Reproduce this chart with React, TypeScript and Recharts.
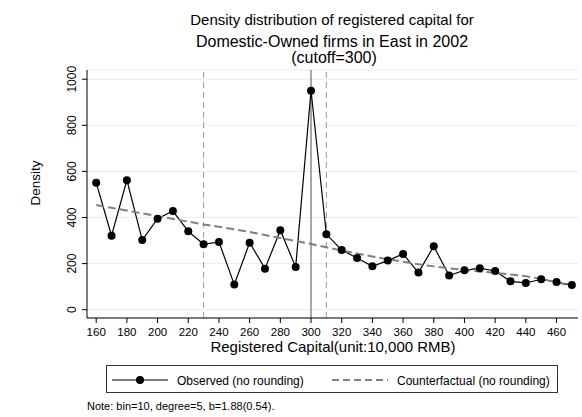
import {
  ComposedChart,
  Line,
  XAxis,
  YAxis,
  CartesianGrid,
  ReferenceLine,
  Legend,
} from "recharts";

// bins of registered capital (10,000 RMB)
const bins = [
  160, 170, 180, 190, 200, 210, 220, 230, 240, 250, 260, 270, 280, 290, 300,
  310, 320, 330, 340, 350, 360, 370, 380, 390, 400, 410, 420, 430, 440, 450,
  460, 470,
];

// observed density per bin
const observed = [
  551, 321, 562, 302, 395, 428, 340, 284, 294, 109, 291, 178, 345, 185, 950,
  327, 259, 224, 188, 213, 242, 161, 275, 148, 171, 180, 168, 123, 116, 132,
  120, 107,
];

// polynomial counterfactual density
const counterfactual = [
  454, 442, 430, 418, 406, 394, 382, 370, 360, 349, 337, 324, 311, 298, 285,
  271, 257, 244, 231, 219, 208, 197, 188, 180, 172, 166, 160, 153, 145, 134,
  119, 103,
];

const xTicks = [
  160, 180, 200, 220, 240, 260, 280, 300, 320, 340, 360, 380, 400, 420, 440,
  460,
];
const yTicks = [0, 200, 400, 600, 800, 1000];

const cutoff = 300;
const windowLow = 230;
const windowHigh = 310;

const FONT = "'Liberation Sans', Arial, Helvetica, sans-serif";

const chartData = bins.map((b, i) => ({
  bin: b,
  observed: observed[i],
  counterfactual: counterfactual[i],
}));

const YTick = ({ y, payload }: any) => (
  <text
    x={76}
    y={y}
    transform={`rotate(-90, 76, ${y})`}
    textAnchor="middle"
    fontSize={12}
    fontFamily={FONT}
    fill="#000"
  >
    {payload.value}
  </text>
);

const XTick = ({ x, y, payload }: any) => (
  <text
    x={x}
    y={y + 11}
    textAnchor="middle"
    fontSize={11.5}
    fontFamily={FONT}
    fill="#000"
  >
    {payload.value}
  </text>
);

const LegendBox = () => (
  <svg width={582} height={52} style={{ display: "block" }}>
    <rect x={106.5} y={0.5} width={451} height={27} fill="#fff" stroke="#333" />
    <line x1={112} y1={15} x2={168} y2={15} stroke="#000" strokeWidth={1.2} />
    <circle cx={140} cy={15} r={4} fill="#000" />
    <text x={177} y={19.5} fontSize={12} fontFamily={FONT} fill="#000">
      Observed (no rounding)
    </text>
    <line
      x1={332}
      y1={15}
      x2={388}
      y2={15}
      stroke="#808080"
      strokeWidth={1.8}
      strokeDasharray="7 4"
    />
    <text x={397} y={19.5} fontSize={12} fontFamily={FONT} fill="#000">
      Counterfactual (no rounding)
    </text>
    <text x={87} y={45} fontSize={11} fontFamily={FONT} fill="#000">
      Note: bin=10, degree=5, b=1.88(0.54).
    </text>
  </svg>
);

export default function App() {
  return (
    <div
      style={{
        position: "absolute",
        left: 0,
        top: 0,
        width: 582,
        height: 417,
        background: "#fff",
      }}
    >
      <svg
        width={582}
        height={70}
        style={{ position: "absolute", left: 0, top: 0 }}
      >
        <text x={332} y={25} textAnchor="middle" fontSize={15} fontFamily={FONT}>
          Density distribution of registered capital for
        </text>
        <text x={332} y={47} textAnchor="middle" fontSize={16} fontFamily={FONT}>
          Domestic-Owned firms in East in 2002
        </text>
        <text x={334} y={63} textAnchor="middle" fontSize={16} fontFamily={FONT}>
          (cutoff=300)
        </text>
      </svg>
      <ComposedChart
        width={582}
        height={417}
        data={chartData}
        margin={{ top: 70, right: 4, left: 0, bottom: 59 }}
      >
        <CartesianGrid vertical={false} stroke="#e6eeee" strokeWidth={1} />
        <XAxis
          dataKey="bin"
          type="number"
          domain={[154, 474]}
          ticks={xTicks}
          allowDataOverflow
          height={40}
          stroke="#000"
          tickSize={5}
          tick={<XTick />}
          label={{
            content: () => (
              <text
                x={333}
                y={352}
                textAnchor="middle"
                fontSize={15}
                fontFamily={FONT}
                fill="#000"
              >
                Registered Capital(unit:10,000 RMB)
              </text>
            ),
          }}
        />
        <YAxis
          type="number"
          domain={[-36, 1040]}
          ticks={yTicks}
          allowDataOverflow
          width={87}
          stroke="#000"
          tickSize={5}
          tick={<YTick />}
          label={{
            content: () => (
              <text
                x={40}
                y={183}
                transform="rotate(-90, 40, 183)"
                textAnchor="middle"
                fontSize={13.5}
                fontFamily={FONT}
                fill="#000"
              >
                Density
              </text>
            ),
          }}
        />
        <ReferenceLine x={windowLow} stroke="#9a9a9a" strokeDasharray="6 4" />
        <ReferenceLine x={cutoff} stroke="#8a8a8a" strokeWidth={1.5} />
        <ReferenceLine x={windowHigh} stroke="#9a9a9a" strokeDasharray="6 4" />
        <Line
          dataKey="observed"
          type="linear"
          stroke="#000"
          strokeWidth={1.2}
          dot={{ r: 4, fill: "#000", stroke: "none" }}
          activeDot={false}
          isAnimationActive={false}
        />
        <Line
          dataKey="counterfactual"
          type="linear"
          stroke="#808080"
          strokeWidth={2}
          strokeDasharray="8 4"
          dot={false}
          activeDot={false}
          isAnimationActive={false}
        />
        <Legend
          layout="vertical"
          verticalAlign="middle"
          align="center"
          content={<LegendBox />}
          wrapperStyle={{ position: "absolute", left: 0, top: 365, width: 582 }}
        />
      </ComposedChart>
    </div>
  );
}
